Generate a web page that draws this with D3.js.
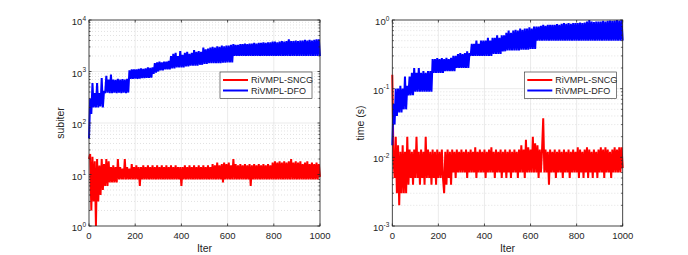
<!DOCTYPE html>
<html>
<head>
<meta charset="utf-8">
<script src="https://cdn.jsdelivr.net/npm/d3@7"></script>
<style>
  body { margin: 0; background: #fff; }
  text { font-family: "Liberation Sans", Arial, sans-serif; fill: #262626; }
  .grid line { stroke: #dedede; stroke-width: 0.6; }
  .mgrid line { stroke: #cfcfcf; stroke-width: 0.6; stroke-dasharray: 1 2; }
</style>
</head>
<body>
<svg width="688" height="255"></svg>
<script>
// iteration index, one sample every 5 iterations
var iters = d3.range(0, 1001, 5);
var seriesNames = ['RiVMPL-SNCG', 'RiVMPL-DFO'];
var xTicks = [0, 200, 400, 600, 800, 1000];

// subiter, RiVMPL-SNCG (one row = 100 iterations)
var subSNCG = [
  20, 25, 2, 22, 3, 18, 1, 20, 3, 15, 4, 20, 5, 16, 6, 20, 6, 18, 7, 14,
  7, 15, 7, 14, 7, 20, 8, 14, 8, 13, 8, 20, 8, 14, 8, 13, 8, 16, 8, 14,
  8, 15, 8, 14, 6, 14, 8, 15, 8, 14, 8, 15, 8, 14, 8, 15, 8, 14, 8, 15,
  8, 14, 8, 15, 8, 14, 8, 15, 8, 14, 8, 15, 8, 14, 8, 15, 8, 14, 8, 14,
  6, 14, 8, 15, 8, 14, 8, 15, 8, 14, 8, 15, 8, 14, 8, 15, 8, 14, 8, 15,
  8, 14, 8, 15, 8, 14, 8, 16, 8, 15, 8, 17, 8, 15, 8, 16, 7, 17, 8, 16,
  8, 17, 8, 15, 8, 20, 8, 16, 8, 15, 8, 16, 8, 15, 8, 16, 8, 15, 8, 16,
  6, 15, 8, 16, 8, 15, 8, 16, 8, 15, 8, 16, 8, 15, 8, 16, 8, 15, 8, 17,
  8, 18, 8, 17, 8, 18, 8, 17, 8, 18, 8, 17, 8, 18, 8, 20, 8, 17, 8, 18,
  8, 17, 8, 18, 8, 16, 8, 17, 8, 18, 8, 16, 8, 17, 8, 16, 8, 17, 8, 16,
  9];
// subiter, RiVMPL-DFO
var subDFO = [
  50, 300, 150, 600, 200, 380, 200, 600, 200, 380, 210, 750, 200, 420, 380, 820, 390, 700, 380, 870,
  380, 700, 390, 690, 380, 720, 390, 700, 380, 710, 390, 700, 380, 720, 390, 1050, 720, 1100, 720, 1100,
  730, 1100, 720, 1120, 730, 1150, 740, 1120, 740, 1150, 750, 1200, 750, 1180, 760, 1200, 900, 1450, 950, 1500,
  1000, 1550, 1050, 1500, 1050, 1550, 1100, 1550, 1100, 1600, 1100, 2000, 1150, 2200, 1150, 2300, 1200, 2000, 1200, 2500,
  1200, 2100, 1200, 2300, 1250, 2400, 1250, 2200, 1300, 2300, 1300, 2600, 1300, 2400, 1300, 2500, 1350, 2400, 1350, 2900,
  1400, 2700, 1400, 2800, 1450, 2900, 1450, 3000, 1450, 2900, 1450, 3100, 1450, 3000, 1450, 3200, 1480, 3100, 1480, 3200,
  1500, 3200, 1500, 3300, 1500, 3400, 2000, 3300, 2000, 3300, 2000, 3400, 2000, 3400, 2000, 3500, 2000, 3400, 2000, 3500,
  2000, 3500, 2000, 3600, 2000, 3500, 2000, 3600, 2000, 3600, 2000, 3700, 2000, 3600, 2000, 3700, 2000, 3700, 2000, 3800,
  2000, 3800, 2000, 3700, 2000, 3800, 2000, 3900, 2000, 3800, 2000, 3900, 2000, 4200, 2000, 3900, 2000, 3900, 2000, 4000,
  2000, 3900, 2000, 4000, 2000, 4000, 2000, 4100, 2000, 4000, 2000, 4100, 2000, 4000, 2000, 4100, 2000, 4200, 2000, 4200,
  2000];
// time (s), RiVMPL-SNCG
var timeSNCG = [
  0.16, 0.01, 0.005, 0.02, 0.003, 0.015, 0.002, 0.012, 0.003, 0.015, 0.003, 0.012, 0.003, 0.02, 0.004, 0.013, 0.005, 0.012, 0.004, 0.013,
  0.005, 0.02, 0.005, 0.012, 0.004, 0.013, 0.005, 0.012, 0.004, 0.02, 0.005, 0.013, 0.005, 0.012, 0.004, 0.013, 0.005, 0.012, 0.004, 0.013,
  0.005, 0.012, 0.005, 0.013, 0.005, 0.003, 0.012, 0.004, 0.013, 0.005, 0.012, 0.004, 0.013, 0.006, 0.012, 0.005, 0.013, 0.006, 0.012, 0.006,
  0.013, 0.006, 0.012, 0.006, 0.013, 0.005, 0.012, 0.006, 0.013, 0.006, 0.012, 0.006, 0.014, 0.005, 0.012, 0.006, 0.013, 0.006, 0.012, 0.006,
  0.013, 0.005, 0.012, 0.006, 0.013, 0.006, 0.014, 0.006, 0.012, 0.005, 0.013, 0.006, 0.012, 0.006, 0.013, 0.005, 0.012, 0.006, 0.013, 0.005,
  0.012, 0.006, 0.013, 0.005, 0.012, 0.006, 0.013, 0.006, 0.012, 0.005, 0.013, 0.006, 0.015, 0.006, 0.013, 0.005, 0.018, 0.006, 0.014, 0.006,
  0.013, 0.006, 0.02, 0.006, 0.016, 0.006, 0.015, 0.005, 0.013, 0.006, 0.013, 0.037, 0.006, 0.013, 0.006, 0.012, 0.004, 0.013, 0.006, 0.012,
  0.006, 0.013, 0.005, 0.012, 0.006, 0.013, 0.006, 0.012, 0.005, 0.013, 0.006, 0.012, 0.006, 0.013, 0.005, 0.012, 0.006, 0.013, 0.006, 0.012,
  0.006, 0.014, 0.005, 0.013, 0.006, 0.012, 0.005, 0.013, 0.006, 0.014, 0.005, 0.013, 0.006, 0.012, 0.005, 0.013, 0.006, 0.012, 0.005, 0.013,
  0.006, 0.014, 0.006, 0.013, 0.005, 0.014, 0.006, 0.013, 0.006, 0.012, 0.005, 0.013, 0.006, 0.014, 0.006, 0.013, 0.006, 0.014, 0.006, 0.014,
  0.007];
// time (s), RiVMPL-DFO
var timeDFO = [
  0.015, 0.06, 0.03, 0.1, 0.04, 0.1, 0.045, 0.11, 0.045, 0.1, 0.05, 0.15, 0.05, 0.11, 0.08, 0.15, 0.08, 0.17, 0.08, 0.2,
  0.09, 0.17, 0.09, 0.2, 0.09, 0.17, 0.09, 0.18, 0.09, 0.17, 0.09, 0.18, 0.09, 0.18, 0.09, 0.27, 0.17, 0.27, 0.17, 0.28,
  0.17, 0.27, 0.17, 0.28, 0.17, 0.27, 0.18, 0.28, 0.18, 0.27, 0.18, 0.28, 0.18, 0.3, 0.18, 0.3, 0.2, 0.32, 0.2, 0.33,
  0.2, 0.32, 0.2, 0.33, 0.2, 0.35, 0.2, 0.33, 0.3, 0.45, 0.3, 0.45, 0.3, 0.5, 0.3, 0.45, 0.3, 0.5, 0.3, 0.5,
  0.3, 0.5, 0.3, 0.55, 0.3, 0.5, 0.3, 0.55, 0.32, 0.55, 0.32, 0.6, 0.32, 0.55, 0.32, 0.6, 0.35, 0.6, 0.35, 0.65,
  0.36, 0.7, 0.36, 0.65, 0.36, 0.7, 0.36, 0.72, 0.36, 0.7, 0.36, 0.75, 0.37, 0.72, 0.37, 0.75, 0.37, 0.75, 0.37, 0.78,
  0.38, 0.75, 0.38, 0.8, 0.38, 0.8, 0.5, 0.8, 0.5, 0.82, 0.5, 0.85, 0.5, 0.82, 0.5, 0.85, 0.5, 0.85, 0.5, 0.85,
  0.5, 0.85, 0.5, 0.87, 0.5, 0.85, 0.5, 0.88, 0.5, 0.9, 0.5, 0.88, 0.5, 0.9, 0.5, 0.88, 0.5, 0.9, 0.5, 0.9,
  0.5, 0.9, 0.5, 0.92, 0.5, 0.9, 0.5, 0.92, 0.5, 0.95, 0.5, 1.0, 0.5, 0.95, 0.5, 0.93, 0.5, 0.95, 0.5, 0.95,
  0.5, 0.95, 0.5, 0.97, 0.5, 0.95, 0.5, 0.97, 0.5, 0.98, 0.5, 0.97, 0.5, 0.98, 0.5, 1.0, 0.5, 0.98, 0.5, 1.0,
  0.5];

var colors = ['#ff0000', '#0000ff'];
var svg = d3.select('svg');

function panel(left, right, ydom, yLabel, yLabelX, series, legendX) {
  var top = 20, bottom = 226;
  var x = d3.scaleLinear().domain([0, 1000]).range([left, right]);
  var y = d3.scaleLog().domain(ydom).range([bottom, top]);
  var g = svg.append('g');
  var e0 = Math.round(Math.log10(ydom[0])), e1 = Math.round(Math.log10(ydom[1]));
  var majors = d3.range(e0, e1 + 1).map(function(e) { return Math.pow(10, e); });
  var minors = [];
  d3.range(e0, e1).forEach(function(e) {
    for (var k = 2; k <= 9; k++) minors.push(k * Math.pow(10, e));
  });

  // grid
  g.append('g').attr('class', 'mgrid').selectAll('line').data(minors).enter().append('line')
    .attr('x1', left).attr('x2', right).attr('y1', y).attr('y2', y);
  var gr = g.append('g').attr('class', 'grid');
  gr.selectAll('.h').data(majors).enter().append('line')
    .attr('x1', left).attr('x2', right).attr('y1', y).attr('y2', y);
  gr.selectAll('.v').data(xTicks).enter().append('line')
    .attr('y1', top).attr('y2', bottom).attr('x1', x).attr('x2', x);

  // lines
  var line = d3.line().x(function(d, i) { return x(iters[i]); }).y(function(d) { return y(d); });
  series.forEach(function(s, i) {
    g.append('path').datum(s).attr('d', line)
      .attr('fill', 'none').attr('stroke', colors[i]).attr('stroke-width', 2)
      .attr('stroke-linejoin', 'bevel');
  });

  // box and ticks
  var ax = g.append('g').attr('stroke', '#262626').attr('stroke-width', 0.8).attr('fill', 'none');
  ax.append('rect').attr('x', left).attr('y', top).attr('width', right - left).attr('height', bottom - top);
  xTicks.forEach(function(t) {
    ax.append('line').attr('x1', x(t)).attr('x2', x(t)).attr('y1', bottom).attr('y2', bottom - 2.5);
    ax.append('line').attr('x1', x(t)).attr('x2', x(t)).attr('y1', top).attr('y2', top + 2.5);
  });
  majors.forEach(function(t) {
    ax.append('line').attr('x1', left).attr('x2', left + 2.5).attr('y1', y(t)).attr('y2', y(t));
    ax.append('line').attr('x1', right).attr('x2', right - 2.5).attr('y1', y(t)).attr('y2', y(t));
  });
  minors.forEach(function(t) {
    ax.append('line').attr('x1', left).attr('x2', left + 1.5).attr('y1', y(t)).attr('y2', y(t));
    ax.append('line').attr('x1', right).attr('x2', right - 1.5).attr('y1', y(t)).attr('y2', y(t));
  });

  // tick labels
  g.selectAll('.xt').data(xTicks).enter().append('text')
    .attr('x', x).attr('y', bottom + 12.5).attr('text-anchor', 'middle')
    .attr('font-size', 9.5).text(function(d) { return d; });
  majors.forEach(function(t) {
    var e = Math.round(Math.log10(t));
    var tx = g.append('text').attr('x', left - 3).attr('y', y(t) + 5)
      .attr('text-anchor', 'end').attr('font-size', 9.5);
    tx.append('tspan').text('10');
    tx.append('tspan').attr('dy', -4.5).attr('font-size', 6.5).text(e);
  });

  // axis labels
  g.append('text').attr('x', (left + right) / 2).attr('y', 252)
    .attr('text-anchor', 'middle').attr('font-size', 10.5).text('Iter');
  g.append('text').attr('transform', 'translate(' + yLabelX + ',' + ((top + bottom) / 2) + ') rotate(-90)')
    .attr('text-anchor', 'middle').attr('font-size', 10.5).text(yLabel);

  // legend
  var lg = g.append('g').attr('transform', 'translate(' + legendX + ',72)');
  lg.append('rect').attr('width', 92).attr('height', 26.5)
    .attr('fill', '#fff').attr('stroke', '#262626').attr('stroke-width', 0.6);
  seriesNames.forEach(function(n, i) {
    var ly = 8 + i * 10.5;
    lg.append('line').attr('x1', 3).attr('x2', 28).attr('y1', ly).attr('y2', ly)
      .attr('stroke', colors[i]).attr('stroke-width', 2);
    lg.append('text').attr('x', 31).attr('y', ly + 3.3).attr('font-size', 9).text(n);
  });
}

panel(89, 320, [1, 1e4], 'subiter', 64, [subSNCG, subDFO], 220);
panel(392.3, 622.7, [1e-3, 1], 'time (s)', 364, [timeSNCG, timeDFO], 524.3);
</script>
</body>
</html>
